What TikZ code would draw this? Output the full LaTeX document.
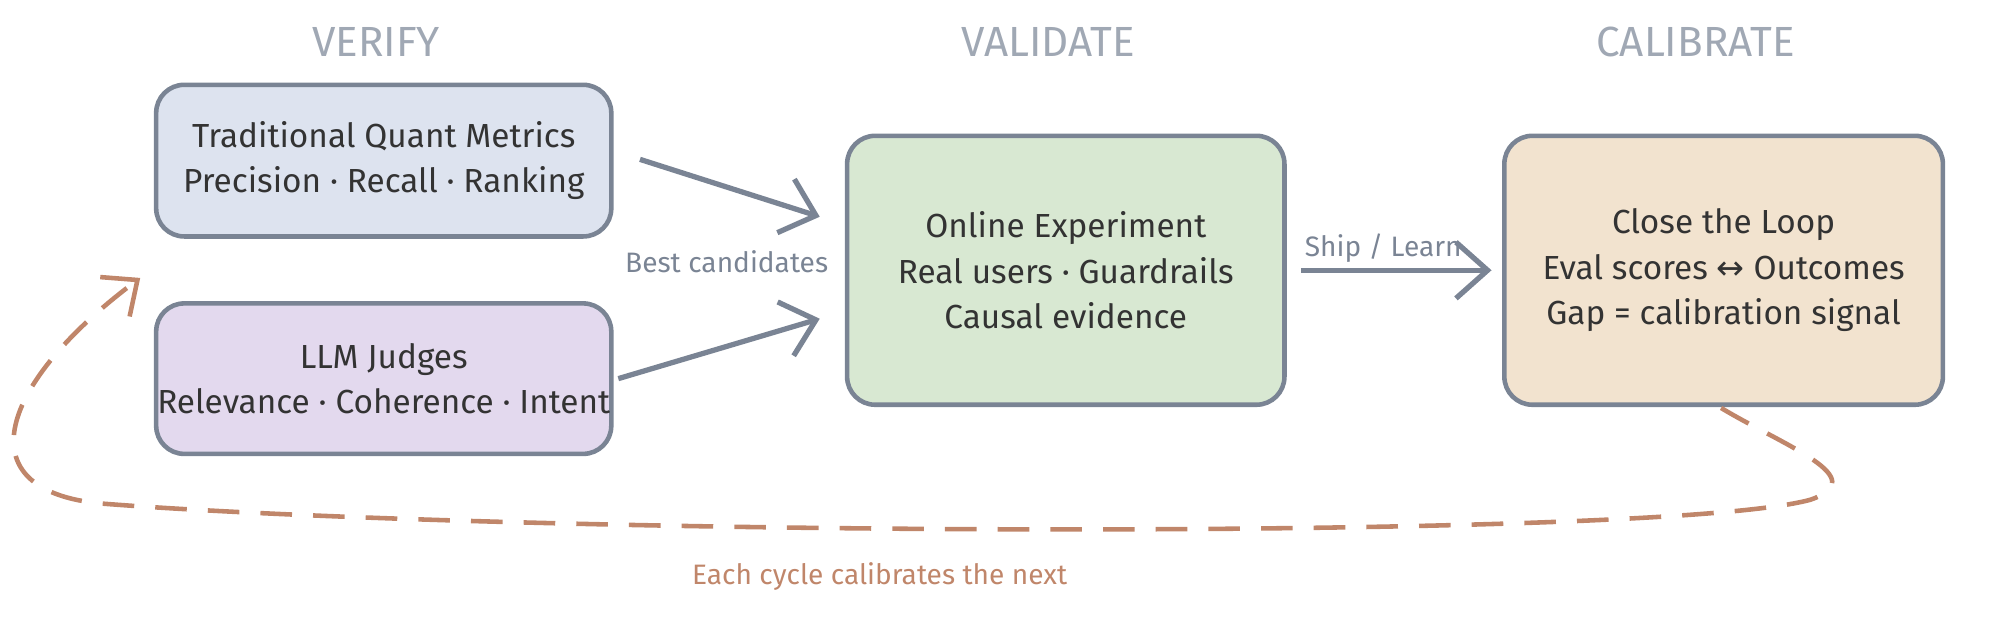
\documentclass[tikz,border=0pt]{standalone}
\usepackage{fontspec}
\setmainfont{Fira Sans}
\newfontfamily\symfont{DejaVu Sans}
\usetikzlibrary{arrows.meta, positioning}
\definecolor{edgegray}{HTML}{7A8494}
\definecolor{headgray}{HTML}{A0A8B4}
\definecolor{loopbrown}{HTML}{C0866A}
\definecolor{fillblue}{HTML}{DDE3EF}
\definecolor{filllav}{HTML}{E3D9EE}
\definecolor{fillgreen}{HTML}{D8E8D2}
\definecolor{filltan}{HTML}{F2E3CF}
\begin{document}
\begin{tikzpicture}
      [
        x=0.1276mm, y=-0.1276mm,
        stage/.style={draw=edgegray, line width=1.3pt, rounded corners=8pt, align=center,
          text=black!80, font=\fontsize{9.5}{13}\selectfont, inner sep=0pt},
        head/.style={text=headgray, font=\fontsize{12}{14}\selectfont},
        note/.style={text=edgegray, font=\fontsize{8}{10}\selectfont},
        flow/.style={draw=edgegray, line width=1.5pt, -{Straight Barb[length=9pt,width=16pt]}}
      ]
      \useasboundingbox (0,0) rectangle (1568,487);
      % column headers
      \node [head] (hv) at (295,33) {VERIFY};
      \node [head] (hva) at (822,33) {VALIDATE};
      \node [head] (hc) at (1330,33) {CALIBRATE};
      % stages
      \node [stage, fill=fillblue, minimum width=45.55mm, minimum height=15.18mm] (quant) at (301,126)
        {Traditional Quant Metrics\\Precision · Recall · Ranking};
      \node [stage, fill=filllav, minimum width=45.55mm, minimum height=15.06mm] (judge) at (301,297)
        {LLM Judges\\Relevance · Coherence · Intent};
      \node [stage, fill=fillgreen, minimum width=43.77mm, minimum height=26.92mm] (online) at (836,212)
        {Online Experiment\\Real users · Guardrails\\Causal evidence};
      \node [stage, fill=filltan, minimum width=43.89mm, minimum height=26.92mm] (close) at (1352,212)
        {Close the Loop\\Eval scores {\symfont ↔} Outcomes\\Gap = calibration signal};
      % connectors
      \coordinate (q1) at (502,125);
      \coordinate (j1) at (485,297);
      \draw [flow] (q1) -- (643,170);
      \draw [flow] (j1) -- (643,250);
      \node [note] (best) at (570,205) {Best candidates};
      \draw [flow] ([xshift=4pt]online.east) -- ([xshift=-3pt]close.west);
      \node [note] (ship) at (1085,195) {Ship / Learn};
      % feedback loop
      \coordinate (ls) at (1350,320);
      \coordinate (le) at (110,218);
      \draw [loopbrown, line width=1.3pt, dash pattern=on 9pt off 6pt,
        -{Straight Barb[length=8pt,width=14pt]}]
      (ls) .. controls (1400,350) and (1470,375) .. (1420,392)
      .. controls (1300,425) and (400,420) .. (80,395)
      .. controls (-30,385) and (0,300) .. (le);
      \node [text=loopbrown, font=\fontsize{8}{10}\selectfont] (cyc) at (690,452)
        {Each cycle calibrates the next};
\end{tikzpicture}
\end{document}
